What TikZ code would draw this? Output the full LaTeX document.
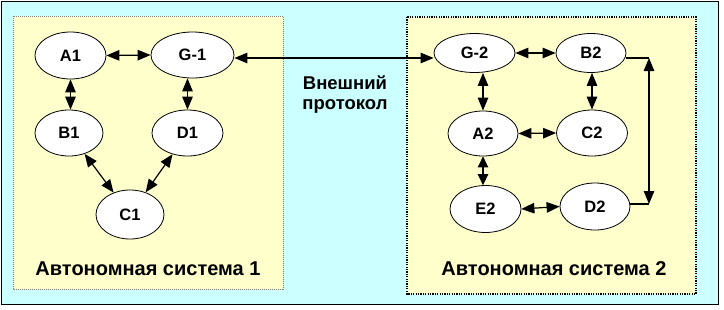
\documentclass[tikz,border=0pt]{standalone}
\usepackage{fontspec}
\setmainfont{Liberation Sans}
\usetikzlibrary{shapes.geometric,arrows.meta}
\definecolor{outerc}{HTML}{CCFFFF}
\definecolor{boxc}{HTML}{FFFFCC}
\begin{document}
\begin{tikzpicture}[x=1pt,y=-1pt,
  nd/.style={ellipse, draw=black, line width=0.8pt, fill=white, inner sep=0pt,
    font=\bfseries\fontsize{16.5}{18}\selectfont},
  lnk/.style={line width=1.2pt, {Triangle[length=13pt,width=10.5pt]}-{Triangle[length=13pt,width=10.5pt]}},
  shortlnk/.style={line width=1.2pt, {Triangle[length=11pt,width=10.5pt]}-{Triangle[length=11pt,width=10.5pt]}},
  plain/.style={line width=1.2pt},
  title/.style={font=\bfseries\fontsize{20}{22}\selectfont},
  lbox/.style={fill=boxc, draw=gray, line width=0.8pt, dash pattern=on 1pt off 1pt},
  rbox/.style={fill=boxc, draw=black, line width=1.2pt, dash pattern=on 1.2pt off 1.2pt}]
\useasboundingbox (0,0) rectangle (724,309);
\fill[white] (0,0) rectangle (724,309);
\draw[fill=outerc, line width=1pt] (1,1) rectangle (718,304);
\draw[lbox] (13,16) rectangle (283,289);
\draw[rbox] (407,17) rectangle (696,294);

% AS 1
\node[nd, minimum width=71pt, minimum height=47pt] (A1) at (70.5,55.5) {A1};
\node[nd, minimum width=83pt, minimum height=46pt] (G1) at (192.5,55) {G-1};
\node[nd, minimum width=68pt, minimum height=46pt] (B1) at (69,133) {B1};
\node[nd, minimum width=71pt, minimum height=46pt] (D1) at (187.5,133) {D1};
\node[nd, minimum width=68pt, minimum height=49pt] (C1) at (130,214.5) {C1};
\node[title] (t1) at (148,269) {Автономная система 1};

% AS 2
\node[nd, minimum width=81pt, minimum height=39pt] (G2) at (474.5,53) {G-2};
\node[nd, minimum width=70pt, minimum height=39pt] (B2) at (591,53) {B2};
\node[nd, minimum width=70pt, minimum height=45pt] (A2) at (483,133.5) {A2};
\node[nd, minimum width=71pt, minimum height=46pt] (C2) at (592,133) {C2};
\node[nd, minimum width=71pt, minimum height=47pt] (E2) at (485.5,209) {E2};
\node[nd, minimum width=70pt, minimum height=47pt] (D2) at (595,206.5) {D2};
\node[title] (t2) at (554,269) {Автономная система 2};

\node[font=\bfseries\fontsize{18.5}{20}\selectfont, align=center] (ext) at (345,95) {Внешний\\протокол};

% links AS1
\draw[lnk] (A1.east) -- (G1.west);
\draw[lnk] (A1.south) -- (A1.south |- B1.north);
\draw[lnk] (G1.south -| D1.north) -- (D1.north);
\draw[lnk] (B1) -- (C1);
\draw[lnk] (D1) -- (C1);

% external
\draw[lnk] ([yshift=-3pt]G1.east) -- ([yshift=-5pt]G2.west);

% links AS2
\draw[lnk] (G2.east) -- (B2.west);
\draw[lnk] (G2.south -| A2.north) -- (A2.north);
\draw[lnk] (B2.south -| C2.north) -- (C2.north);
\draw[lnk] (A2.east) -- (C2.west);
\draw[shortlnk] (A2.south) -- (A2.south |- E2.north);
\draw[lnk] (E2.east) -- (D2.west);

\coordinate (bt) at (649,58);
\coordinate (bb) at (649,204);
\draw[plain] ([yshift=-5pt]B2.east) -- (bt);
\draw[plain] ([yshift=2.5pt]D2.east) -- (bb);
\draw[lnk] (bt) -- (bb);
\end{tikzpicture}
\end{document}
